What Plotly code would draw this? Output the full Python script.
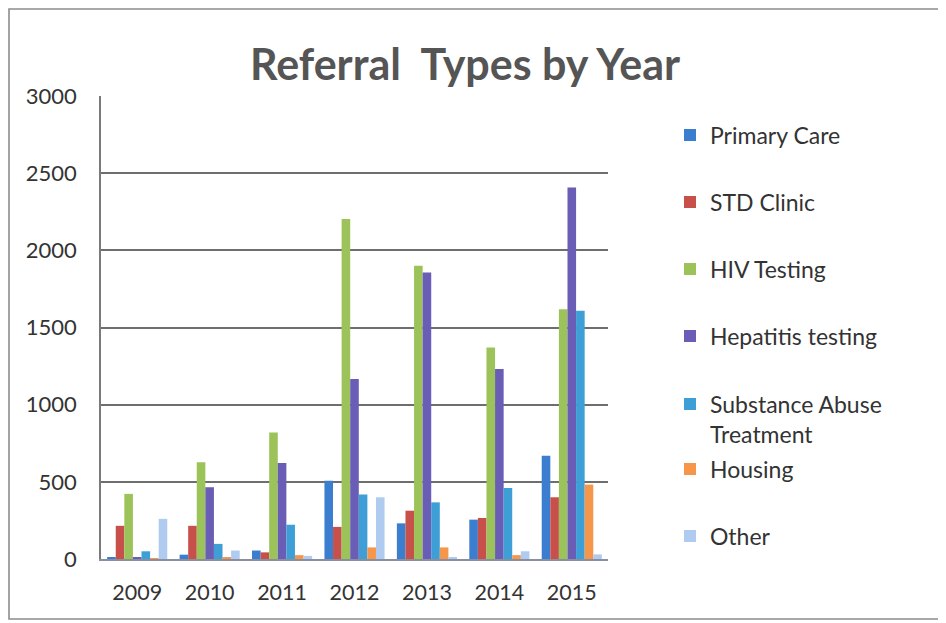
import plotly.graph_objects as go

years = ["2009", "2010", "2011", "2012", "2013", "2014", "2015"]
primary_care = [10, 28, 55, 507, 231, 255, 669]
std_clinic = [215, 215, 43, 208, 313, 266, 400]
hiv_testing = [422, 627, 820, 2203, 1900, 1371, 1619]
hepatitis_testing = [12, 465, 622, 1166, 1856, 1231, 2407]
substance_abuse = [50, 98, 222, 418, 367, 460, 1608]
housing = [5, 10, 25, 75, 75, 25, 482]
other = [260, 55, 20, 400, 8, 50, 30]

series_names = ["Primary Care", "STD Clinic", "HIV Testing", "Hepatitis testing",
                "Substance Abuse<br>Treatment", "Housing", "Other"]
series_values = [primary_care, std_clinic, hiv_testing, hepatitis_testing,
                 substance_abuse, housing, other]
colors = ["#3B7ECF", "#C8504B", "#9CC35A", "#6A5DB6", "#3E9FD6", "#F5964B", "#AFCBF0"]

# page body margin offset (px)
OFF = 8
W, H = 946 - OFF, 623 - OFF
# plot area in figure pixels
L, R, T, B = 101 - OFF, 608 - OFF, 96 - OFF, 559 - OFF
pw, ph = R - L, B - T

def px_x(x):
    return (x - OFF - L) / pw

def px_y(y):
    return (B - (y - OFF)) / ph

legend_rows = [135, 202, 269, 336, 419, 469, 536]

fig = go.Figure()
layout_legends = {}
for i, (name, vals, col) in enumerate(zip(series_names, series_values, colors)):
    lname = "legend" if i == 0 else f"legend{i+1}"
    fig.add_trace(go.Bar(x=years, y=vals, name=name, marker_color=col,
                         marker_line_width=0, legend=lname))
    layout_legends[lname] = dict(
        x=px_x(670), xanchor="left", y=px_y(legend_rows[i]), yanchor="middle",
        font=dict(family="Lato, sans-serif", size=23, color="#333333"),
        bgcolor="rgba(0,0,0,0)", valign="top", itemwidth=30,
    )

fig.update_layout(
    width=W, height=H,
    margin=dict(l=L, r=W - R, t=T, b=H - B),
    paper_bgcolor="white", plot_bgcolor="white",
    barmode="group", bargap=0.17, bargroupgap=0,
    showlegend=True,
    title=dict(text="Referral\u00a0 Types by Year", x=px_x(465), xref="paper", xanchor="center",
               y=1 - (65 - OFF) / H, yref="container", yanchor="middle",
               font=dict(family="Lato, sans-serif", size=43, color="#555555", weight="bold")),
    **layout_legends,
)

fig.update_yaxes(range=[0, 3000], tickvals=[0, 500, 1000, 1500, 2000, 2500, 3000],
                 showgrid=True, gridcolor="#6e6e6e", gridwidth=1.6,
                 showline=True, linecolor="#7a7a7a", linewidth=1.6,
                 zeroline=False, ticks="", ticklabelstandoff=18,
                 tickfont=dict(family="Lato, sans-serif", size=22, color="#333333"))
fig.update_xaxes(showline=True, linecolor="#8a8fa0", linewidth=1.6, ticks="",
                 showgrid=False, ticklabelstandoff=13,
                 tickfont=dict(family="Lato, sans-serif", size=21.5, color="#333333"))

# outer frame of the chart
fig.add_shape(type="rect", xref="paper", yref="paper",
              x0=px_x(OFF + 1), x1=px_x(942), y0=px_y(619), y1=px_y(OFF + 1),
              line=dict(color="#8c8c8c", width=1.6), fillcolor="rgba(0,0,0,0)", layer="below")

fig.write_html("out.html")
